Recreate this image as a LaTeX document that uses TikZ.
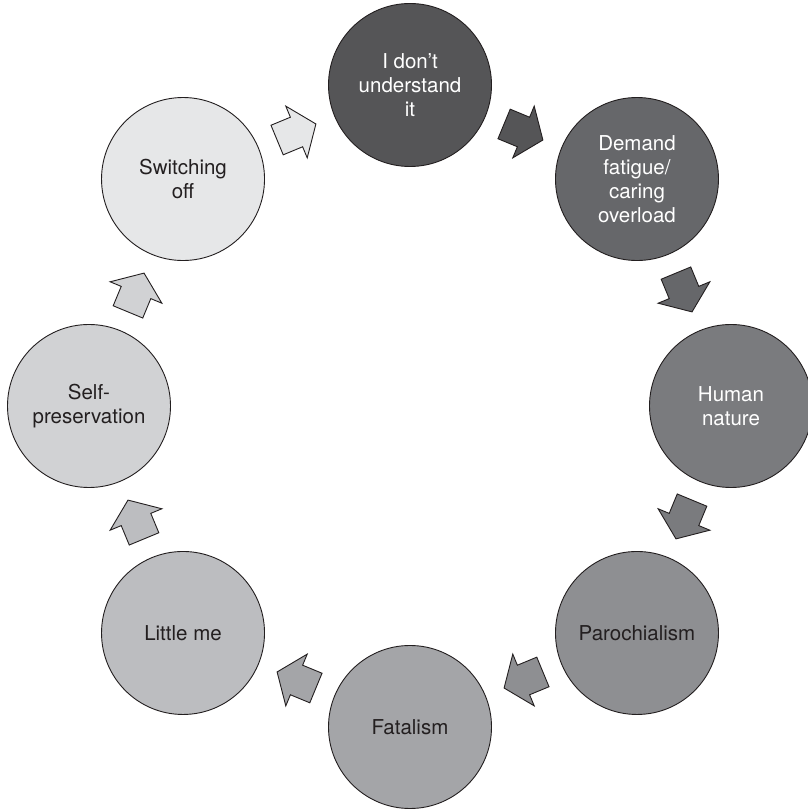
\documentclass[tikz,border=0pt]{standalone}
\usepackage{fontspec}
\setmainfont{TeX Gyre Heros}
\usetikzlibrary{calc}

\definecolor{linecol}{HTML}{231F20}
\definecolor{stageA}{HTML}{555557}
\definecolor{stageB}{HTML}{66676A}
\definecolor{stageC}{HTML}{7A7B7E}
\definecolor{stageD}{HTML}{8E8F92}
\definecolor{stageE}{HTML}{A4A5A8}
\definecolor{stageF}{HTML}{BCBDC0}
\definecolor{stageG}{HTML}{D1D2D4}
\definecolor{stageH}{HTML}{E6E7E8}

\begin{document}
\begin{tikzpicture}[x=1pt, y=1pt,
  stage/.style={circle, draw=linecol, line width=0.9pt, minimum size=163pt,
    inner sep=0pt, align=center, text=linecol,
    font=\fontsize{20.5}{24}\selectfont},
  lighttext/.style={text=white},
  cyclearrow/.pic={
    \path[pic actions, draw=linecol, line width=0.9pt, line join=miter]
      (-21,-16) -- (0,-16) -- (0,-28) -- (21,0) -- (0,28) -- (0,16)
      -- (-21,16) -- cycle;
  }]

\clip (0,0) rectangle (808,811);
\fill[white] (0,0) rectangle (808,811);

\coordinate (hub) at (410,405);

% the eight stages, clockwise from the top
\node[stage, lighttext, fill=stageA] (n1) at ($(hub)+(90:321pt)$)  {I don’t\\understand\\it};
\node[stage, lighttext, fill=stageB] (n2) at ($(hub)+(45:321pt)$)  {Demand\\fatigue/\\caring\\overload};
\node[stage, lighttext, fill=stageC] (n3) at ($(hub)+(0:321pt)$)   {Human\\nature};
\node[stage, fill=stageD]            (n4) at ($(hub)+(-45:321pt)$) {Parochialism};
\node[stage, fill=stageE]            (n5) at ($(hub)+(-90:321pt)$) {Fatalism};
\node[stage, fill=stageF]            (n6) at ($(hub)+(-135:321pt)$){Little me};
\node[stage, fill=stageG]            (n7) at ($(hub)+(180:321pt)$) {Self-\\preservation};
\node[stage, fill=stageH]            (n8) at ($(hub)+(135:321pt)$) {Switching\\off};

% block arrows between consecutive stages, coloured like their source
\foreach \src/\dst/\col in {n1/n2/stageA, n2/n3/stageB, n3/n4/stageC, n4/n5/stageD,
                            n5/n6/stageE, n6/n7/stageF, n7/n8/stageG, n8/n1/stageH} {
  \path let \p1=(\src), \p2=(\dst), \n1={atan2(\y2-\y1,\x2-\x1)} in
    ($(\src)!0.5!(\dst)$) pic[rotate=\n1, fill=\col] {cyclearrow};
}
\end{tikzpicture}
\end{document}
